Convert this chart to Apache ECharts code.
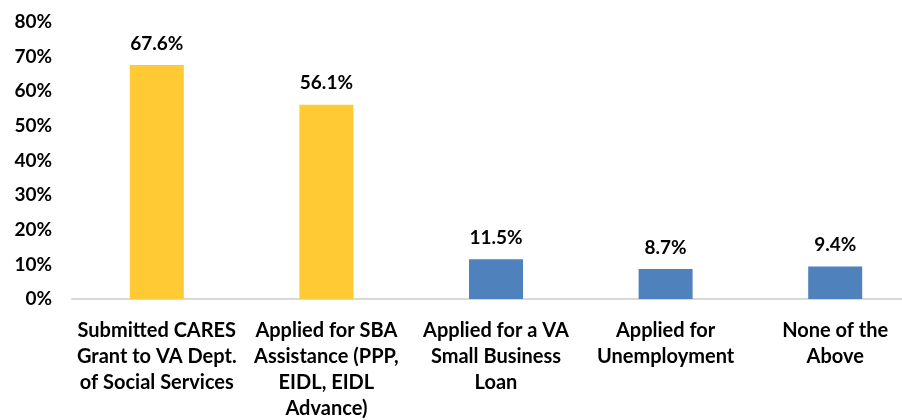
<!DOCTYPE html>
<html>
<head>
<meta charset="utf-8">
<script src="https://cdn.jsdelivr.net/npm/echarts@6/dist/echarts.min.js"></script>
<style>
  html, body { margin: 0; padding: 0; background: #fff; }
  #chart { width: 902px; height: 420px; }
</style>
</head>
<body>
<div id="chart"></div>
<script>
const categories = [
  'Submitted CARES\nGrant to VA Dept.\nof Social Services',
  'Applied for SBA\nAssistance (PPP,\nEIDL, EIDL\nAdvance)',
  'Applied for a VA\nSmall Business\nLoan',
  'Applied for\nUnemployment',
  'None of the\nAbove'
]
const values = [67.6, 56.1, 11.5, 8.7, 9.4]
const barColors = ['#FFCA33', '#FFCA33', '#4F81BD', '#4F81BD', '#4F81BD']

const font = 'Lato, "Open Sans", sans-serif'

const chart = echarts.init(document.getElementById('chart'))

chart.setOption({
  animation: false,
  grid: {
    left: 72,
    top: 22,
    width: 848,
    height: 277,
    outerBoundsMode: 'none'
  },
  xAxis: {
    type: 'category',
    data: categories,
    axisLine: { lineStyle: { color: '#D9D9D9', width: 2 } },
    axisTick: { show: false },
    axisLabel: {
      interval: 0,
      margin: 19,
      color: '#000',
      fontFamily: font,
      fontWeight: 'bold',
      fontSize: 20,
      lineHeight: 26
    }
  },
  yAxis: {
    type: 'value',
    min: 0,
    max: 80,
    interval: 10,
    axisLine: { show: false },
    axisTick: { show: false },
    splitLine: { show: false },
    axisLabel: {
      margin: 20,
      color: '#000',
      fontFamily: font,
      fontWeight: 'bold',
      fontSize: 19,
      formatter: '{value}%'
    }
  },
  series: [
    {
      type: 'bar',
      barWidth: 54,
      data: values.map((v, i) => ({ value: v, itemStyle: { color: barColors[i] } })),
      label: {
        show: true,
        position: 'top',
        distance: 12,
        color: '#000',
        fontFamily: font,
        fontWeight: 'bold',
        fontSize: 19,
        formatter: p => p.value.toFixed(1) + '%'
      }
    }
  ]
})
</script>
</body>
</html>
